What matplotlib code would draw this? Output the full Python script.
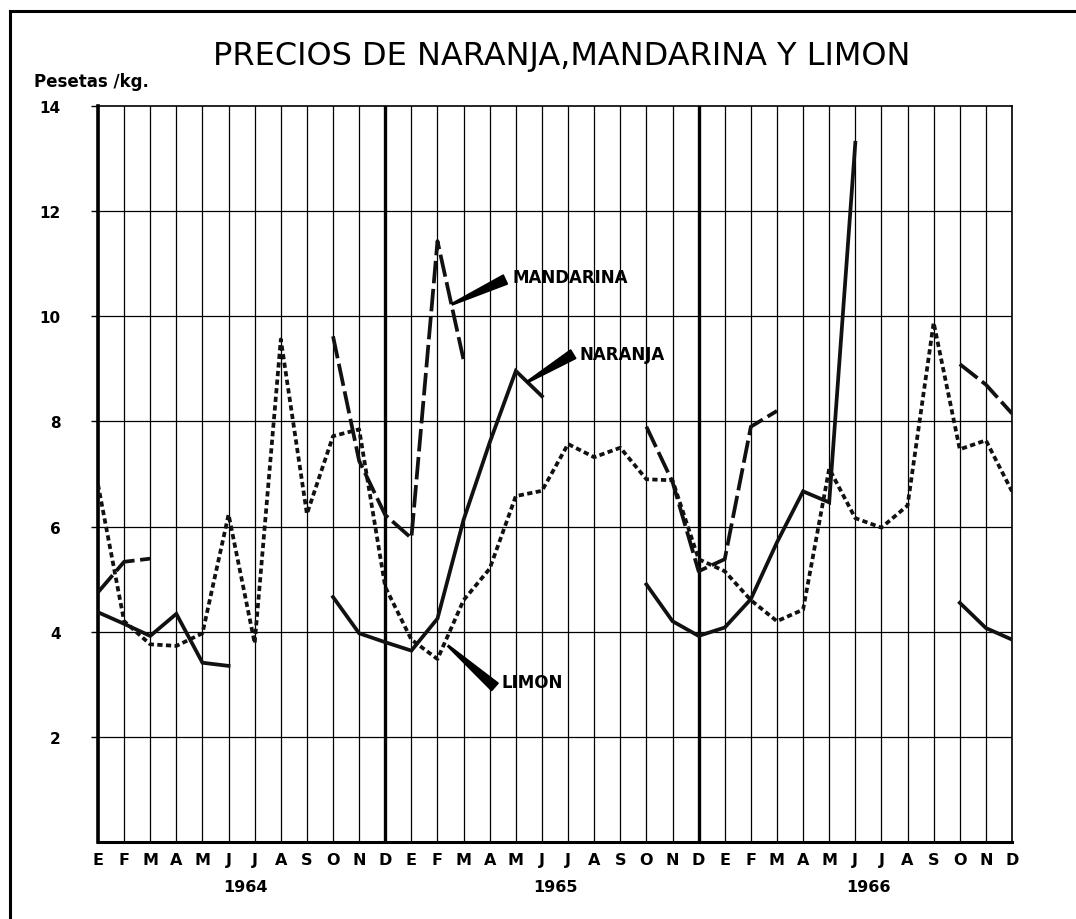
import numpy as np
import matplotlib
matplotlib.use("Agg")
import matplotlib.pyplot as plt
from matplotlib.patches import Polygon

# Precios mensuales (pesetas/kg), enero 1964 - diciembre 1966
months = ["E", "F", "M", "A", "M", "J", "J", "A", "S", "O", "N", "D"] * 3
years = ["1964", "1965", "1966"]
nan = np.nan

naranja = [4.37, 4.15, 3.92, 4.34, 3.41, 3.35, nan, nan, nan, 4.66, 3.97, 3.80,
           3.64, 4.25, 6.13, 7.60, 8.96, 8.48, nan, nan, nan, 4.90, 4.20, 3.92,
           4.08, 4.62, 5.70, 6.67, 6.46, 13.30, nan, nan, nan, 4.55, 4.07, 3.85]

mandarina = [4.75, 5.33, 5.39, nan, nan, nan, nan, nan, nan, 9.62, 7.25, 6.22,
             5.78, 11.43, 9.17, nan, nan, nan, nan, nan, nan, 7.90, 6.85, 5.15,
             5.38, 7.90, 8.20, nan, nan, nan, nan, nan, nan, 9.09, 8.70, 8.15]

limon = [6.80, 4.20, 3.76, 3.73, 3.97, 6.23, 3.78, 9.56, 6.24, 7.72, 7.85, 4.85,
         3.85, 3.48, 4.60, 5.20, 6.58, 6.68, 7.57, 7.32, 7.50, 6.90, 6.88, 5.38,
         5.15, 4.60, 4.20, 4.42, 7.10, 6.16, 5.98, 6.40, 9.88, 7.47, 7.64, 6.67]

W, H = 1076, 920
fig = plt.figure(figsize=(W / 100, H / 100), dpi=100)
fig.patch.set_facecolor("white")
ax = fig.add_axes([98 / W, 1 - 843 / H, (1012 - 98) / W, (843 - 107) / H])

x = np.arange(len(months))
ax.set_xlim(0, len(months) - 1)
ax.set_ylim(0, 14)

# rejilla
for i in x:
    ax.axvline(i, color="black", lw=2.4 if i in (11, 23) else 0.9, zorder=1)
for v in range(2, 14, 2):
    ax.axhline(v, color="black", lw=0.9, zorder=1)

for side, lw in [("left", 2.6), ("bottom", 2.2), ("top", 1.2), ("right", 1.2)]:
    ax.spines[side].set_linewidth(lw)

ax.set_xticks(x)
ax.set_xticklabels(months, fontsize=11.5, fontweight="bold")
ax.tick_params(axis="x", length=0, pad=7)
ax.set_yticks(range(2, 15, 2))
ax.set_yticklabels([str(v) for v in range(2, 15, 2)], fontsize=11, fontweight="bold")
ax.tick_params(axis="y", length=5, width=1, direction="out", pad=22)

for xc, yr in zip([5.63, 17.5, 29.5], years):
    ax.text(xc, -0.84, yr, ha="center", va="center", fontsize=11.5, fontweight="bold")

# series
ax.plot(x, naranja, color="#111111", lw=2.7, zorder=3, solid_joinstyle="miter")
ax.plot(x, mandarina, color="#111111", lw=2.7, zorder=3,
        linestyle=(0, (6, 1.5)), dash_capstyle="butt")
ax.plot(x, limon, color="#111111", lw=2.7, zorder=3,
        linestyle=(0, (1.4, 0.9)), dash_capstyle="butt")


def pointer(x0, y0, x1, y1, half=5):
    p0 = ax.transData.transform((x0, y0))
    p1 = ax.transData.transform((x1, y1))
    d = p1 - p0
    n = np.array([-d[1], d[0]]) / np.hypot(*d)
    pts = np.array([p0 + n * 0.8, p0 - n * 0.8, p1 - n * half, p1 + n * half])
    pts = ax.transData.inverted().transform(pts)
    ax.add_patch(Polygon(pts, closed=True, color="black", zorder=4))


pointer(13.56, 10.23, 15.6, 10.7)
ax.text(15.86, 10.74, "MANDARINA", fontsize=12, fontweight="bold", va="center")
pointer(16.44, 8.75, 18.2, 9.28)
ax.text(18.45, 9.28, "NARANJA", fontsize=12, fontweight="bold", va="center")
pointer(13.41, 3.73, 15.2, 2.95)
ax.text(15.45, 3.04, "LIMON", fontsize=12, fontweight="bold", va="center")

fig.text(562 / W, 1 - 56 / H, "PRECIOS DE NARANJA,MANDARINA Y LIMON",
         ha="center", va="center", fontsize=23)
fig.text(34 / W, 1 - 82 / H, "Pesetas /kg.", ha="left", va="center",
         fontsize=12, fontweight="bold")

# marco
fig.add_artist(plt.Line2D([10 / W, 10 / W], [0, 1 - 12 / H], color="black", lw=2.2))
fig.add_artist(plt.Line2D([10 / W, 1], [1 - 12 / H, 1 - 12 / H], color="black", lw=2.2))

fig.savefig("out.png", dpi=100)
